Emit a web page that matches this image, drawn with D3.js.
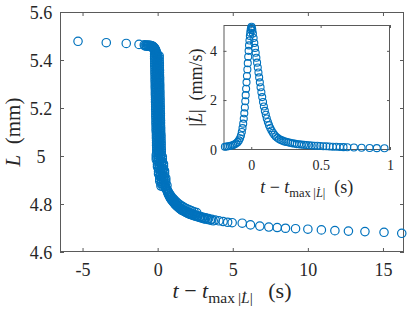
<!DOCTYPE html>
<html>
<head>
<meta charset="utf-8">
<script src="https://cdn.jsdelivr.net/npm/d3@7"></script>
<style>
  body { margin: 0; background: #fff; }
  svg { display: block; }
  text { font-family: "Liberation Serif", serif; fill: #262626; }
</style>
</head>
<body>
<div id="chart"></div>
<script>
// main series: L (mm) against t - t_max (s)
var mainT = [-5.3, -3.42, -2.09, -1.24, -0.89, -0.78, -0.68, -0.6, -0.52, -0.46, -0.40, -0.35,
  -0.31, -0.27, -0.24, -0.21, -0.18, -0.15, -0.13, -0.11, -0.09, -0.06,
  -0.85, -0.75, -0.65, -0.56, -0.49, -0.43, -0.37, -0.33, -0.29, -0.25,
  -0.22, -0.2, -0.17, -0.14, -0.12, -0.1, -0.08, -0.07,
  // steep drop
  -0.20, -0.10, 0.00, 0.10, -0.20, -0.10, 0.00, 0.10, -0.20, -0.10, 0.00, 0.10,
  -0.19, -0.09, 0.01, 0.11, -0.19, -0.09, 0.01, 0.11, -0.19, -0.09, 0.01, 0.11,
  -0.18, -0.08, 0.02, 0.12, -0.18, -0.08, 0.02, 0.12, -0.18, -0.08, 0.02, 0.12,
  -0.17, -0.07, 0.03, 0.13, -0.17, -0.07, 0.03, 0.13, -0.17, -0.07, 0.03, 0.13,
  -0.16, -0.06, 0.04, 0.14, -0.16, -0.06, 0.04, 0.14, -0.16, -0.06, 0.04, 0.14,
  -0.15, -0.05, 0.05, 0.15, -0.15, -0.05, 0.05, 0.15, -0.15, -0.05, 0.05, 0.15,
  -0.14, -0.04, 0.06, 0.16, -0.14, -0.04, 0.06, 0.16, -0.14, -0.04, 0.06, 0.16,
  -0.13, -0.03, 0.07, 0.17, -0.13, -0.03, 0.07, 0.17, -0.13, -0.03, 0.07, 0.17,
  -0.12, -0.02, 0.08, 0.18, -0.12, -0.02, 0.08, 0.18, -0.12, -0.02, 0.08, 0.18,
  -0.11, -0.01, 0.09, 0.19, -0.11, -0.01, 0.09, 0.19, -0.11, -0.01, 0.09, 0.19,
  -0.10, 0.00, 0.10, 0.20, -0.10, 0.00, 0.10, 0.20, -0.10, 0.00, 0.10, 0.20,
  -0.08, 0.02, 0.12, 0.22, -0.08, 0.02, 0.12, 0.22, -0.08, 0.02, 0.12, 0.22,
  -0.07, 0.03, 0.13, 0.23, -0.07, 0.03, 0.13, 0.23, -0.07, 0.03, 0.13, 0.23,
  -0.06, 0.04, 0.14, 0.24, -0.06, 0.04, 0.14, 0.24, -0.06, 0.04, 0.14, 0.24,
  -0.09, 0.04, 0.18, 0.31, -0.09, 0.04, 0.18, 0.31, -0.09, 0.04, 0.18, 0.31,
  -0.01, 0.12, 0.26, 0.39, -0.01, 0.12, 0.26, 0.39, -0.01, 0.12, 0.26, 0.39,
  0.06, 0.19, 0.33, 0.46, 0.06, 0.19, 0.33, 0.46, 0.06, 0.19, 0.33, 0.46,
  0.14, 0.27, 0.41, 0.54, 0.14, 0.27, 0.41, 0.54, 0.14, 0.27, 0.41, 0.54,
  0.22, 0.35, 0.49, 0.62, 0.22, 0.35, 0.49,
  // knee and tail
  0.62, 0.68, 0.74, 0.8, 0.87, 0.94, 1.01, 1.09, 1.17, 1.26,
  1.35, 1.45, 1.55, 1.66, 1.77, 1.89, 2.01, 2.14, 2.27, 2.41,
  2.55, 2.7, 2.86, 3.02, 3.2, 3.39, 3.6, 3.83, 4.08, 4.36,
  4.66, 4.96, 5.63, 6.18, 6.8, 7.4, 7.96, 8.51, 9.18, 10.0,
  10.9, 11.8, 12.7, 13.8, 15.07, 16.25,
  // lower edge of the knee band
  0.65, 0.71, 0.77, 0.84, 0.9, 0.97, 1.05, 1.13, 1.21, 1.3,
  1.4, 1.5, 1.6, 1.71, 1.83, 1.95, 2.08, 2.2, 2.34, 2.48,
  2.62, 2.78, 2.94, 3.1,
  // upper edge of the knee band
  0.5, 0.56, 0.63, 0.7, 0.77, 0.85, 0.93, 1.02, 1.11, 1.21,
  1.32, 1.43, 1.55, 1.68, 1.81, 1.95, 2.1, 2.26, 2.42, 2.6,
  // middle of the knee band
  0.59, 0.66, 0.72, 0.78, 0.83, 0.9, 0.98, 1.06, 1.14, 1.22,
  1.31, 1.4, 1.5, 1.61, 1.72, 1.84, 1.96, 2.09, 2.22, 2.35,
  2.5, 2.65, 2.8, 2.96, 3.12, 3.3, 3.5, 3.7];
var mainL = [5.478, 5.472, 5.469, 5.465, 5.463, 5.462, 5.462, 5.461, 5.461, 5.460, 5.459, 5.458,
  5.456, 5.455, 5.452, 5.450, 5.446, 5.444, 5.440, 5.437, 5.432, 5.428,
  5.459, 5.458, 5.458, 5.457, 5.456, 5.455, 5.454, 5.452, 5.45, 5.447,
  5.444, 5.441, 5.437, 5.433, 5.43, 5.426, 5.422, 5.418,
  5.425, 5.4225, 5.42, 5.4175, 5.415, 5.4125, 5.41, 5.4075, 5.405, 5.4025, 5.4, 5.3975,
  5.395, 5.3925, 5.39, 5.3875, 5.385, 5.3825, 5.38, 5.3775, 5.375, 5.3725, 5.37, 5.3675,
  5.365, 5.3625, 5.36, 5.3575, 5.355, 5.3525, 5.35, 5.3475, 5.345, 5.3425, 5.34, 5.3375,
  5.335, 5.3325, 5.33, 5.3275, 5.325, 5.3225, 5.32, 5.3175, 5.315, 5.3125, 5.31, 5.3075,
  5.305, 5.3025, 5.3, 5.2975, 5.295, 5.2925, 5.29, 5.2875, 5.285, 5.2825, 5.28, 5.2775,
  5.275, 5.2725, 5.27, 5.2675, 5.265, 5.2625, 5.26, 5.2575, 5.255, 5.2525, 5.25, 5.2475,
  5.245, 5.2425, 5.24, 5.2375, 5.235, 5.2325, 5.23, 5.2275, 5.225, 5.2225, 5.22, 5.2175,
  5.215, 5.2125, 5.21, 5.2075, 5.205, 5.2025, 5.2, 5.1975, 5.195, 5.1925, 5.19, 5.1875,
  5.185, 5.1825, 5.18, 5.1775, 5.175, 5.1725, 5.17, 5.1675, 5.165, 5.1625, 5.16, 5.1575,
  5.155, 5.1525, 5.15, 5.1475, 5.145, 5.1425, 5.14, 5.1375, 5.135, 5.1325, 5.13, 5.1275,
  5.125, 5.1225, 5.12, 5.1175, 5.115, 5.1125, 5.11, 5.1075, 5.105, 5.1025, 5.1, 5.0975,
  5.095, 5.0925, 5.09, 5.0875, 5.085, 5.0825, 5.08, 5.0775, 5.075, 5.0725, 5.07, 5.0675,
  5.065, 5.0625, 5.06, 5.0575, 5.055, 5.0525, 5.05, 5.0475, 5.045, 5.0425, 5.04, 5.0375,
  5.035, 5.0325, 5.03, 5.0275, 5.025, 5.0225, 5.02, 5.0175, 5.015, 5.0125, 5.01, 5.0075,
  5.005, 5.0025, 5.0, 4.9975, 4.995, 4.9925, 4.99, 4.9875, 4.985, 4.9825, 4.98, 4.9775,
  4.975, 4.9725, 4.97, 4.9675, 4.965, 4.9625, 4.96, 4.9575, 4.955, 4.9525, 4.95, 4.9475,
  4.945, 4.9425, 4.94, 4.9375, 4.935, 4.9325, 4.93, 4.9275, 4.925, 4.9225, 4.92, 4.9175,
  4.915, 4.9125, 4.91, 4.9075, 4.905, 4.9025, 4.9, 4.8975, 4.895, 4.8925, 4.89, 4.8875,
  4.885, 4.8825, 4.88, 4.8775, 4.875, 4.8725, 4.87,
  4.862, 4.852, 4.843, 4.835, 4.827, 4.82, 4.814, 4.808, 4.802, 4.796,
  4.791, 4.786, 4.781, 4.777, 4.773, 4.769, 4.766, 4.763, 4.76, 4.757,
  4.754, 4.751, 4.748, 4.745, 4.742, 4.739, 4.736, 4.733, 4.73, 4.727,
  4.724, 4.722, 4.72, 4.713, 4.708, 4.704, 4.702, 4.699, 4.697, 4.695,
  4.692, 4.689, 4.687, 4.685, 4.682, 4.678,
  4.852, 4.843, 4.835, 4.827, 4.82, 4.814, 4.808, 4.802, 4.796, 4.79,
  4.785, 4.78, 4.775, 4.771, 4.767, 4.763, 4.759, 4.756, 4.753, 4.75,
  4.747, 4.744, 4.741, 4.738,
  4.872, 4.865, 4.858, 4.851, 4.844, 4.837, 4.83, 4.823, 4.817, 4.811,
  4.805, 4.799, 4.794, 4.789, 4.784, 4.78, 4.776, 4.772, 4.768, 4.764,
  4.86, 4.85, 4.84, 4.833, 4.827, 4.82, 4.813, 4.807, 4.801, 4.795,
  4.79, 4.785, 4.78, 4.775, 4.771, 4.767, 4.763, 4.76, 4.757, 4.754,
  4.751, 4.748, 4.745, 4.742, 4.739, 4.736, 4.733, 4.73];

// inset series: |dL/dt| (mm/s)
var insetT = [-0.19, -0.178, -0.166, -0.154, -0.142, -0.13, -0.119, -0.108, -0.098, -0.089,
  -0.081, -0.074, -0.068, -0.063, -0.058, -0.054, -0.05, -0.046, -0.043, -0.04,
  -0.037, -0.034, -0.031, -0.028, -0.025, -0.022, -0.019, -0.016, -0.013, -0.01,
  -0.007, -0.004, -0.001, 0.002, 0.005, 0.008, 0.012, 0.017, 0.022, 0.027,
  0.032, 0.037, 0.042, 0.047, 0.052, 0.057, 0.062, 0.067, 0.073, 0.079,
  0.085, 0.091, 0.098, 0.105, 0.112, 0.12, 0.128, 0.137, 0.146, 0.156,
  0.166, 0.177, 0.188, 0.2, 0.212, 0.225, 0.238, 0.252, 0.266, 0.281,
  0.296, 0.312, 0.328, 0.345, 0.362, 0.38, 0.398, 0.417, 0.436, 0.456,
  0.476, 0.497, 0.519, 0.541, 0.564, 0.588, 0.613, 0.639, 0.665, 0.692,
  0.74, 0.795, 0.853, 0.905, 0.96];
var insetV = [0.10, 0.11, 0.12, 0.13, 0.15, 0.17, 0.20, 0.24, 0.29, 0.36,
  0.45, 0.56, 0.70, 0.86, 1.04, 1.24, 1.46, 1.70, 1.95, 2.20,
  2.46, 2.72, 2.98, 3.24, 3.50, 3.76, 4.00, 4.22, 4.42, 4.60,
  4.74, 4.86, 4.93, 4.98, 4.92, 4.84, 4.70, 4.52, 4.32, 4.12,
  3.92, 3.72, 3.52, 3.32, 3.12, 2.92, 2.72, 2.52, 2.32, 2.12,
  1.92, 1.74, 1.56, 1.40, 1.25, 1.11, 0.98, 0.86, 0.76, 0.67,
  0.59, 0.52, 0.47, 0.42, 0.38, 0.35, 0.32, 0.30, 0.28, 0.26,
  0.24, 0.23, 0.21, 0.20, 0.19, 0.18, 0.17, 0.16, 0.15, 0.145,
  0.14, 0.13, 0.125, 0.12, 0.11, 0.105, 0.10, 0.09, 0.085, 0.08,
  0.07, 0.06, 0.05, 0.045, 0.04];

var mainXTicks = [-5, 0, 5, 10, 15];
var mainYTicks = [4.6, 4.8, 5, 5.2, 5.4, 5.6];
var insetXTicks = [0, 0.5, 1];
var insetYTicks = [0, 2, 4];

var blue = "#0072BD", axisCol = "#5a5a5a";
var width = 415, height = 312;

var svg = d3.select("#chart").append("svg")
    .attr("width", width)
    .attr("height", height);

// tick labels without trailing ".0"
function fmt(d) {
  return String(Math.round(d * 10) / 10);
}

function styleAxis(g) {
  g.select(".domain").remove();
  g.selectAll(".tick line").attr("stroke", axisCol);
}

// ---------- main axes ----------
var m = {left: 60, right: 404, top: 12, bottom: 252};
var x = d3.scaleLinear().domain([-6.5, 16.4]).range([m.left, m.right]);
var y = d3.scaleLinear().domain([4.6, 5.6]).range([m.bottom, m.top]);

svg.append("g")
    .attr("transform", "translate(0," + m.bottom + ")")
    .call(d3.axisBottom(x).tickValues(mainXTicks).tickSizeInner(-4).tickSizeOuter(0).tickFormat(fmt))
    .call(styleAxis)
    .call(function(g){ g.selectAll("text").attr("y", 24).attr("dy", null)
      .attr("font-size", 18).attr("font-family", null).attr("fill", null); });

svg.append("g")
    .attr("transform", "translate(0," + m.top + ")")
    .call(d3.axisTop(x).tickValues(mainXTicks).tickSizeInner(-4).tickSizeOuter(0).tickFormat(""))
    .call(styleAxis);

svg.append("g")
    .attr("transform", "translate(" + m.left + ",0)")
    .call(d3.axisLeft(y).tickValues(mainYTicks).tickSizeInner(-4).tickSizeOuter(0).tickFormat(fmt))
    .call(styleAxis)
    .call(function(g){ g.selectAll("text").attr("x", -19).attr("dy", "0.34em")
      .attr("text-anchor", "middle").attr("font-size", 18)
      .attr("font-family", null).attr("fill", null); });

svg.append("g")
    .attr("transform", "translate(" + m.right + ",0)")
    .call(d3.axisRight(y).tickValues(mainYTicks).tickSizeInner(-4).tickSizeOuter(0).tickFormat(""))
    .call(styleAxis);

svg.append("rect")
    .attr("x", m.left + 0.5).attr("y", m.top + 0.5)
    .attr("width", m.right - m.left - 1).attr("height", m.bottom - m.top - 1)
    .attr("fill", "none").attr("stroke", axisCol).attr("stroke-width", 1);

svg.append("g").selectAll("circle")
    .data(d3.zip(mainT, mainL))
  .enter().append("circle")
    .attr("cx", function(d){ return x(d[0]); })
    .attr("cy", function(d){ return y(d[1]); })
    .attr("r", 4.2)
    .attr("fill", "none")
    .attr("stroke", blue)
    .attr("stroke-width", 1.2);

// axis labels
var xl = svg.append("text")
    .attr("x", (m.left + m.right) / 2).attr("y", 298)
    .attr("text-anchor", "middle").attr("font-size", 22);
xl.append("tspan").attr("font-style", "italic").text("t");
xl.append("tspan").text("\u2005\u2212\u2005");
xl.append("tspan").attr("font-style", "italic").text("t");
xl.append("tspan").attr("font-size", 15.5).attr("dy", 5).text("max\u2009|");
xl.append("tspan").attr("font-size", 15.5).attr("font-style", "italic").text("L\u0307");
xl.append("tspan").attr("font-size", 15.5).text("|");
xl.append("tspan").attr("dy", -5).text("\u2002\u2009(s)");

var yl = svg.append("text")
    .attr("transform", "translate(20," + (m.top + m.bottom) / 2 + ") rotate(-90)")
    .attr("text-anchor", "middle").attr("font-size", 21);
yl.append("tspan").attr("font-style", "italic").text("L");
yl.append("tspan").text("\u2002(mm)");

// ---------- inset ----------
var n = {left: 223.5, right: 390, top: 25, bottom: 150};
var xi = d3.scaleLinear().domain([-0.2, 1]).range([n.left, n.right]);
var yi = d3.scaleLinear().domain([-0.03, 5.05]).range([n.bottom, n.top]);

svg.append("rect")
    .attr("x", n.left).attr("y", n.top)
    .attr("width", n.right - n.left).attr("height", n.bottom - n.top)
    .attr("fill", "#fff");

svg.append("g")
    .attr("transform", "translate(0," + n.bottom + ")")
    .call(d3.axisBottom(xi).tickValues(insetXTicks).tickSizeInner(-3).tickSizeOuter(0).tickFormat(fmt))
    .call(styleAxis)
    .call(function(g){ g.selectAll("text").attr("y", 20).attr("dy", null)
      .attr("font-size", 14).attr("font-family", null).attr("fill", null); });

svg.append("g")
    .attr("transform", "translate(0," + n.top + ")")
    .call(d3.axisTop(xi).tickValues(insetXTicks).tickSizeInner(-3).tickSizeOuter(0).tickFormat(""))
    .call(styleAxis);

svg.append("g")
    .attr("transform", "translate(" + n.left + ",0)")
    .call(d3.axisLeft(yi).tickValues(insetYTicks).tickSizeInner(-3).tickSizeOuter(0).tickFormat(fmt))
    .call(styleAxis)
    .call(function(g){ g.selectAll("text").attr("x", -10).attr("dy", "0.34em")
      .attr("text-anchor", "middle").attr("font-size", 14)
      .attr("font-family", null).attr("fill", null); });

svg.append("g")
    .attr("transform", "translate(" + n.right + ",0)")
    .call(d3.axisRight(yi).tickValues(insetYTicks).tickSizeInner(-3).tickSizeOuter(0).tickFormat(""))
    .call(styleAxis);

svg.append("rect")
    .attr("x", n.left + 0.5).attr("y", n.top + 0.5)
    .attr("width", n.right - n.left - 1).attr("height", n.bottom - n.top - 1)
    .attr("fill", "none").attr("stroke", axisCol).attr("stroke-width", 1);

svg.append("g").selectAll("circle")
    .data(d3.zip(insetT, insetV))
  .enter().append("circle")
    .attr("cx", function(d){ return xi(d[0]); })
    .attr("cy", function(d){ return yi(d[1]); })
    .attr("r", 3.5)
    .attr("fill", "none")
    .attr("stroke", blue)
    .attr("stroke-width", 1.1);

var ixl = svg.append("text")
    .attr("x", (n.left + n.right) / 2).attr("y", 193)
    .attr("text-anchor", "middle").attr("font-size", 18);
ixl.append("tspan").attr("font-style", "italic").text("t");
ixl.append("tspan").text("\u2005\u2212\u2005");
ixl.append("tspan").attr("font-style", "italic").text("t");
ixl.append("tspan").attr("font-size", 12.5).attr("dy", 4).text("max\u2009|");
ixl.append("tspan").attr("font-size", 12.5).attr("font-style", "italic").text("L\u0307");
ixl.append("tspan").attr("font-size", 12.5).text("|");
ixl.append("tspan").attr("dy", -4).text("\u2002(s)");

var iyl = svg.append("text")
    .attr("transform", "translate(202," + (n.top + n.bottom) / 2 + ") rotate(-90)")
    .attr("text-anchor", "middle").attr("font-size", 18);
iyl.append("tspan").text("|");
iyl.append("tspan").attr("font-style", "italic").text("L\u0307");
iyl.append("tspan").text("|\u2002(mm/s)");
</script>
</body>
</html>
